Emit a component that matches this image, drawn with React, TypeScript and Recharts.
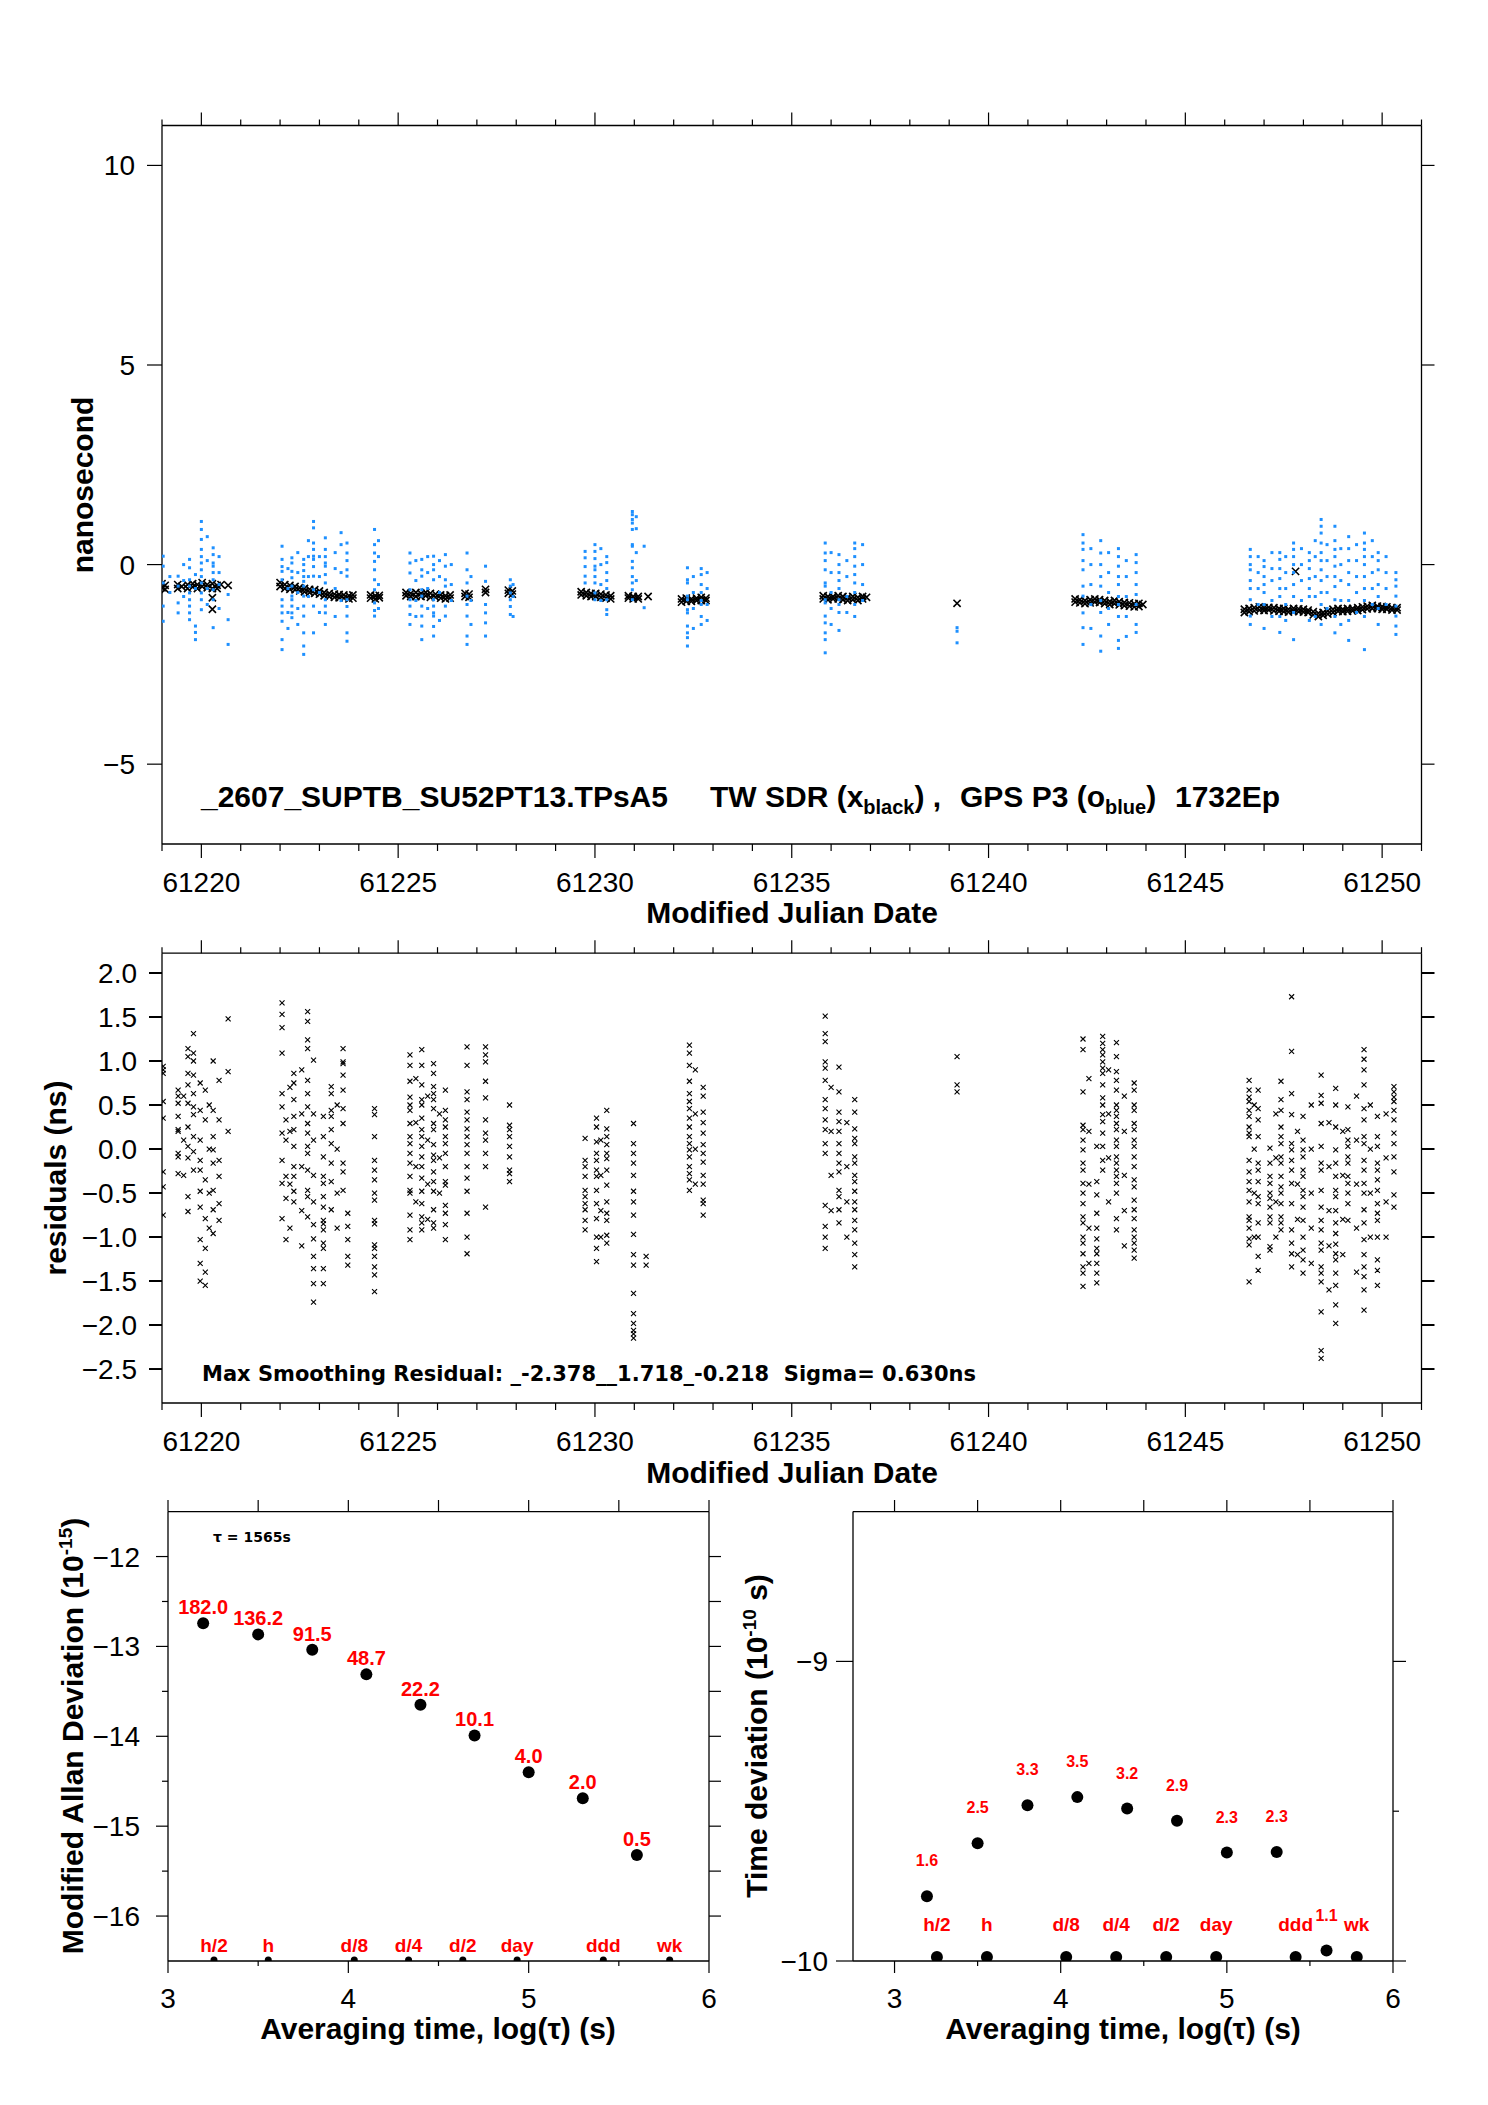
import React from "react";
import { Scatter, ScatterChart, XAxis, YAxis } from "recharts";

const SANS = "'Liberation Sans', Arial, Helvetica, sans-serif";
const DEJAVU = "'DejaVu Sans', sans-serif";
const BLUE = "#1e90ff";
const RED = "#ff0000";

// ---- axis ticks ----
const mjdTicks = [
  61219, 61220, 61221, 61222, 61223, 61224, 61225, 61226, 61227, 61228, 61229,
  61230, 61231, 61232, 61233, 61234, 61235, 61236, 61237, 61238, 61239, 61240,
  61241, 61242, 61243, 61244, 61245, 61246, 61247, 61248, 61249, 61250, 61251,
];
const mjdMajor = [61220, 61225, 61230, 61235, 61240, 61245, 61250];
const nsTicks = [-5, 0, 5, 10];
const resTicks = [-2.5, -2, -1.5, -1, -0.5, 0, 0.5, 1, 1.5, 2];
const logTauTicks = [3, 3.5, 4, 4.5, 5, 5.5, 6];
const logTauMajor = [3, 4, 5, 6];
const mdevTicks = [-16, -15.5, -15, -14.5, -14, -13.5, -13, -12.5, -12];
const mdevMajor = [-16, -15, -14, -13, -12];
const tdevTicksL = [-10, -9];
const tdevTicksR = [-10, -9.5, -9];
const tdevMajor = [-10, -9];

// ---- top panel: TW SDR (black x), columns of [MJD, values in ns] ----
type Col = [number, number[]];
const twSdr: Col[] = [
  [61219.0, [-0.48, -0.58]], [61219.08, [-0.52, -0.62]], [61219.4, [-0.5, -0.6]], [61219.5, [-0.55]],
  [61219.65, [-0.5, -0.6]], [61219.78, [-0.48, -0.56]], [61219.9, [-0.5, -0.6]], [61220.02, [-0.45, -0.55]],
  [61220.15, [-0.5, -0.58]], [61220.28, [-0.48, -0.6, -0.83, -1.12]], [61220.4, [-0.52, -0.6]], [61220.5, [-0.5]],
  [61220.68, [-0.52]],
  [61222.0, [-0.45, -0.55]], [61222.12, [-0.5, -0.6]], [61222.25, [-0.52, -0.62]], [61222.38, [-0.55, -0.63]],
  [61222.5, [-0.58, -0.66]], [61222.62, [-0.6, -0.68]], [61222.75, [-0.62, -0.7]], [61222.88, [-0.63, -0.72]],
  [61223.0, [-0.66, -0.74]], [61223.12, [-0.7, -0.78]], [61223.25, [-0.72, -0.8]], [61223.38, [-0.74, -0.82]],
  [61223.5, [-0.75, -0.83]], [61223.62, [-0.76, -0.84]], [61223.75, [-0.78, -0.86]], [61223.85, [-0.76, -0.84]],
  [61224.3, [-0.76, -0.84]], [61224.42, [-0.78, -0.86]], [61224.52, [-0.77, -0.83]],
  [61225.2, [-0.7, -0.78]], [61225.32, [-0.72, -0.8]], [61225.45, [-0.7, -0.8]], [61225.58, [-0.72, -0.8]],
  [61225.7, [-0.7, -0.78]], [61225.82, [-0.72, -0.82]], [61225.95, [-0.74, -0.82]], [61226.08, [-0.76, -0.84]],
  [61226.2, [-0.78, -0.86]], [61226.32, [-0.76, -0.84]], [61226.7, [-0.72, -0.8]], [61226.8, [-0.74, -0.82]],
  [61227.22, [-0.62, -0.7]], [61227.8, [-0.64, -0.72]], [61227.9, [-0.66, -0.74]],
  [61229.65, [-0.68, -0.76]], [61229.78, [-0.7, -0.78]], [61229.9, [-0.72, -0.8]], [61230.02, [-0.72, -0.8]],
  [61230.15, [-0.74, -0.82]], [61230.28, [-0.76, -0.84]], [61230.4, [-0.78, -0.86]],
  [61230.85, [-0.78, -0.84]], [61230.97, [-0.8, -0.86]], [61231.1, [-0.8, -0.86]], [61231.35, [-0.8]],
  [61232.2, [-0.86, -0.94]], [61232.32, [-0.84, -0.92]], [61232.45, [-0.86, -0.92]], [61232.58, [-0.84, -0.9]],
  [61232.7, [-0.82, -0.9]], [61232.82, [-0.84, -0.9]],
  [61235.8, [-0.78, -0.86]], [61235.92, [-0.8, -0.88]], [61236.05, [-0.8, -0.86]], [61236.18, [-0.78, -0.86]],
  [61236.3, [-0.8, -0.88]], [61236.42, [-0.82, -0.9]], [61236.55, [-0.8, -0.88]], [61236.68, [-0.82, -0.9]],
  [61236.8, [-0.8, -0.86]], [61236.9, [-0.82]],
  [61239.2, [-0.97]],
  [61242.2, [-0.86, -0.94]], [61242.32, [-0.88, -0.96]], [61242.45, [-0.9, -0.98]], [61242.58, [-0.88, -0.96]],
  [61242.7, [-0.86, -0.94]], [61242.82, [-0.88, -0.95]], [61242.95, [-0.9, -0.98]], [61243.08, [-0.92, -1.0]],
  [61243.2, [-0.9, -0.98]], [61243.32, [-0.93, -1.01]], [61243.45, [-0.95, -1.03]], [61243.58, [-0.96, -1.04]],
  [61243.7, [-0.98, -1.06]], [61243.82, [-0.97, -1.05]], [61243.92, [-1.0]],
  [61246.5, [-1.12, -1.2]], [61246.62, [-1.1, -1.18]], [61246.75, [-1.08, -1.16]], [61246.88, [-1.06, -1.14]],
  [61247.0, [-1.08, -1.15]], [61247.12, [-1.07, -1.14]], [61247.25, [-1.08, -1.16]], [61247.38, [-1.1, -1.17]],
  [61247.5, [-1.1, -1.18]], [61247.62, [-1.12, -1.19]], [61247.75, [-1.1, -1.17]], [61247.8, [-0.17]],
  [61247.88, [-1.11, -1.18]], [61248.0, [-1.12, -1.19]], [61248.12, [-1.14, -1.2]], [61248.25, [-1.18, -1.26]],
  [61248.38, [-1.22, -1.3]], [61248.5, [-1.2, -1.27]], [61248.62, [-1.16, -1.24]], [61248.75, [-1.12, -1.2]],
  [61248.88, [-1.1, -1.17]], [61249.0, [-1.12, -1.18]], [61249.12, [-1.1, -1.17]], [61249.25, [-1.1, -1.16]],
  [61249.38, [-1.08, -1.15]], [61249.5, [-1.06, -1.13]], [61249.62, [-1.04, -1.11]], [61249.75, [-1.02, -1.1]],
  [61249.88, [-1.04, -1.1]], [61250.0, [-1.05, -1.12]], [61250.12, [-1.06, -1.12]], [61250.25, [-1.08, -1.14]],
  [61250.38, [-1.08, -1.14]],
];

// ---- top panel: GPS P3 (blue), columns of [MJD, values in ns] ----
const gpsP3: Col[] = [
  [61219.03, [0.21, -0.04, -0.46, -1.04, -1.42]],
  [61219.2, [-0.3, -0.7]],
  [61219.41, [-0.29, -0.54, -0.96, -1.21]],
  [61219.55, [0.0, -0.4, -0.8]],
  [61219.7, [0.13, -0.08, -0.38, -0.54, -0.71, -0.88, -1.04, -1.21, -1.38]],
  [61219.85, [-0.25, -0.6, -1.54, -1.7, -1.88]],
  [61220.0, [1.08, 0.88, 0.63, 0.38, 0.2, 0.04, -0.13, -0.3, -0.46, -0.71, -0.88, -1.13]],
  [61220.15, [0.7, 0.1, -0.6, -1.0]],
  [61220.3, [0.42, 0.25, 0.04, -0.04, -0.2, -0.38, -0.63, -0.88, -1.58]],
  [61220.45, [0.2, -0.2, -0.5, -1.1]],
  [61220.68, [-0.75, -1.38, -2.0]],
  [61222.05, [0.46, 0.13, -0.05, -0.17, -0.38, -0.88, -1.04, -1.21, -1.42, -1.88, -2.13]],
  [61222.2, [-0.1, -0.6, -1.2, -1.6]],
  [61222.3, [0.17, 0.04, -0.17, -0.33, -0.54, -0.79, -0.88, -1.04, -1.21, -1.33]],
  [61222.45, [0.3, -0.2, -0.7, -1.1, -1.5]],
  [61222.6, [0.13, 0.0, -0.15, -0.3, -0.42, -0.54, -0.79, -1.04, -1.29, -1.71, -2.04, -2.25]],
  [61222.72, [0.6, 0.2, -0.3, -0.8]],
  [61222.85, [1.08, 0.92, 0.54, 0.38, 0.21, 0.13, -0.05, -0.29, -0.63, -1.04, -1.71]],
  [61223.0, [0.2, -0.3, -0.7, -1.2]],
  [61223.15, [0.67, 0.38, 0.2, 0.04, -0.04, -0.25, -0.46, -0.88, -1.04, -1.21, -1.5]],
  [61223.4, [0.3, -0.1, -0.6, -1.3]],
  [61223.55, [0.8, 0.5, -0.2, -0.9]],
  [61223.7, [0.54, 0.29, 0.1, -0.13, -0.29, -0.88, -1.05, -1.29, -1.71, -1.92]],
  [61224.4, [0.88, 0.5, 0.29, 0.08, -0.13, -0.38, -0.63, -0.96, -1.15, -1.29]],
  [61224.5, [0.6, 0.2, -0.5, -1.1]],
  [61225.3, [0.29, 0.04, -0.21, -0.63, -0.88, -1.04, -1.25, -1.5]],
  [61225.45, [0.1, -0.4, -0.9, -1.3]],
  [61225.6, [0.13, -0.13, -0.29, -0.63, -0.79, -1.04, -1.29, -1.54, -1.88]],
  [61225.75, [0.2, -0.2, -0.6, -1.1]],
  [61225.9, [0.21, 0.0, -0.13, -0.38, -0.88, -1.04, -1.21, -1.29, -1.55, -1.79]],
  [61226.05, [0.1, -0.3, -0.7, -1.4]],
  [61226.2, [0.25, -0.04, -0.38, -0.54, -1.04, -1.29]],
  [61226.35, [0.0, -0.5, -0.9]],
  [61226.75, [0.29, -0.13, -0.46, -0.79, -1.0, -1.29, -1.79, -2.0]],
  [61226.85, [-0.3, -0.9, -1.5]],
  [61227.22, [-0.04, -0.42, -1.0, -1.21, -1.46, -1.79]],
  [61227.85, [-0.38, -0.54, -0.71, -0.88, -1.05, -1.25]],
  [61227.92, [-0.5, -0.8, -1.3]],
  [61229.75, [0.33, 0.17, -0.05, -0.29, -0.46]],
  [61230.0, [0.5, 0.33, 0.15, -0.04, -0.13, -0.3, -0.46, -0.71, -0.88]],
  [61230.15, [0.4, 0.0, -0.5, -0.9]],
  [61230.3, [0.2, 0.05, -0.2, -0.4, -0.6, -0.88, -1.13, -1.25]],
  [61230.95, [1.33, 1.25, 1.13, 1.04, 0.88, 0.5, 0.46, 0.08, -0.08, -0.3, -0.46, -0.63, -0.88]],
  [61231.05, [1.2, 0.9, 0.3, -0.4]],
  [61231.25, [0.46, -1.08]],
  [61232.35, [-0.08, -0.38, -0.46, -0.79, -0.88, -1.13, -1.21, -1.54, -1.71, -1.83, -2.04]],
  [61232.5, [-0.3, -0.7, -1.1, -1.6]],
  [61232.7, [-0.1, -0.25, -0.5, -0.7, -0.9, -1.0, -1.3, -1.5]],
  [61232.85, [-0.2, -0.6, -1.0, -1.4]],
  [61235.85, [0.54, 0.29, 0.1, -0.13, -0.46, -0.54, -0.88, -0.96, -1.29, -1.46, -1.71, -1.88, -2.21]],
  [61236.0, [0.3, -0.2, -0.7, -1.1, -1.5]],
  [61236.2, [0.25, 0.0, -0.2, -0.4, -0.6, -0.88, -1.0, -1.2, -1.65]],
  [61236.4, [0.1, -0.3, -0.8, -1.2]],
  [61236.6, [0.54, 0.4, 0.2, -0.04, -0.25, -0.46, -0.7, -1.0, -1.3]],
  [61236.8, [0.5, 0.0, -0.5, -0.9]],
  [61239.2, [-1.58, -1.67, -1.96]],
  [61242.4, [0.75, 0.54, 0.38, 0.1, -0.13, -0.54, -0.79, -1.21, -1.58, -2.0]],
  [61242.6, [0.4, 0.0, -0.5, -1.0, -1.6]],
  [61242.85, [0.6, 0.29, 0.0, -0.3, -0.54, -0.9, -1.2, -1.79, -2.17]],
  [61243.05, [0.3, -0.2, -0.7, -1.1, -1.5]],
  [61243.3, [0.4, 0.2, -0.04, -0.3, -0.5, -0.8, -1.0, -1.3, -1.9, -2.1]],
  [61243.5, [0.1, -0.3, -0.8, -1.3, -1.8]],
  [61243.75, [0.25, 0.05, -0.2, -0.5, -0.75, -1.0, -1.5, -1.7]],
  [61246.65, [0.38, 0.2, 0.0, -0.13, -0.4, -0.6, -0.88, -1.29, -1.5]],
  [61246.85, [0.2, -0.2, -0.6, -1.0]],
  [61247.0, [0.1, -0.05, -0.3, -0.5, -0.7, -1.0, -1.6]],
  [61247.2, [0.3, -0.1, -0.4, -0.9, -1.3]],
  [61247.4, [0.3, 0.13, -0.1, -0.35, -0.6, -0.8, -1.3, -1.7]],
  [61247.55, [0.2, -0.2, -0.6, -1.0, -1.4]],
  [61247.75, [0.54, 0.38, 0.2, 0.0, -0.2, -0.5, -0.8, -1.2, -1.88]],
  [61247.95, [0.4, 0.0, -0.4, -0.9]],
  [61248.15, [0.3, 0.1, -0.1, -0.35, -0.6, -0.8, -1.4]],
  [61248.3, [0.6, 0.2, -0.3, -0.8, -1.3]],
  [61248.45, [1.13, 0.96, 0.79, 0.54, 0.3, 0.1, -0.13, -0.4, -0.7, -1.0, -1.5]],
  [61248.6, [0.5, 0.1, -0.3, -0.7, -1.1]],
  [61248.8, [0.96, 0.6, 0.38, 0.2, -0.04, -0.3, -0.55, -0.88, -1.3, -1.71]],
  [61248.95, [0.4, 0.0, -0.4, -0.9, -1.5]],
  [61249.15, [0.7, 0.4, 0.1, -0.2, -0.5, -0.9, -1.4, -1.9]],
  [61249.35, [0.5, 0.1, -0.3, -0.7, -1.2]],
  [61249.55, [0.79, 0.54, 0.38, 0.2, 0.0, -0.3, -0.6, -0.9, -1.3, -2.13]],
  [61249.75, [0.6, 0.2, -0.2, -0.6, -1.0]],
  [61249.9, [0.3, 0.1, -0.13, -0.5, -0.8, -1.1, -1.5]],
  [61250.1, [0.2, -0.2, -0.6, -1.0]],
  [61250.35, [-0.2, -0.38, -0.54, -0.79, -1.04, -1.29, -1.54, -1.75]],
];

// ---- middle panel: residuals (ns), columns of [MJD, values] ----
const residuals: Col[] = [
  [61219.03, [0.94, 0.86, 0.9, 0.54, 0.35, -0.26, -0.43, -0.75]],
  [61219.41, [0.67, 0.6, 0.52, 0.37, 0.22, 0.2, -0.05, -0.09, -0.28]],
  [61219.55, [0.6, 0.1, -0.3]],
  [61219.66, [1.14, 1.05, 0.86, 0.73, 0.52, 0.25, 0.03, -0.1, -0.54, -0.71]],
  [61219.8, [1.31, 1.09, 1.0, 0.84, 0.63, 0.48, 0.39, 0.14, -0.03, -0.24]],
  [61219.97, [0.75, 0.44, 0.1, -0.13, -0.24, -0.48, -0.66, -1.03, -1.3, -1.5]],
  [61220.1, [0.67, 0.33, -0.35, -0.79, -1.13, -1.4, -1.55]],
  [61220.2, [0.5, 0.0, -0.5, -0.9]],
  [61220.3, [1.0, 0.44, 0.14, -0.01, -0.16, -0.47, -0.69, -0.96]],
  [61220.45, [0.78, 0.33, -0.13, -0.31, -0.62, -0.81]],
  [61220.68, [1.48, 0.88, 0.2]],
  [61222.05, [1.66, 1.53, 1.38, 1.09, 0.63, 0.48, 0.18, -0.13, -0.39, -0.79]],
  [61222.15, [0.33, 0.1, -0.31, -0.56, -1.03]],
  [61222.25, [0.7, 0.2, -0.4, -0.9]],
  [61222.35, [0.86, 0.75, 0.56, 0.37, 0.22, 0.03, -0.2, -0.31, -0.48, -0.6]],
  [61222.55, [0.9, 0.4, -0.2, -0.7, -1.1]],
  [61222.7, [1.56, 1.45, 1.24, 1.14, 0.78, 0.63, 0.48, 0.29, 0.18, 0.03, -0.05, -0.24, -0.47, -0.54, -0.77]],
  [61222.85, [1.01, 0.4, 0.1, -0.3, -0.6, -0.86, -1.02, -1.22, -1.36, -1.53, -1.74]],
  [61223.1, [0.37, 0.14, -0.09, -0.31, -0.39, -0.54, -0.66, -0.81, -0.85, -0.92, -1.07, -1.13, -1.36, -1.53]],
  [61223.3, [0.71, 0.63, 0.44, 0.37, 0.22, 0.06, -0.16, -0.37, -0.69]],
  [61223.45, [0.5, 0.0, -0.5, -0.9]],
  [61223.6, [1.14, 0.99, 0.97, 0.84, 0.67, 0.46, 0.29, -0.16, -0.26, -0.47]],
  [61223.72, [-0.73, -0.88, -1.03, -1.22, -1.32]],
  [61224.4, [0.46, 0.39, 0.14, -0.13, -0.24, -0.35, -0.5, -0.58, -0.81, -0.85, -1.09, -1.13, -1.22, -1.34, -1.43, -1.62]],
  [61225.3, [1.07, 0.95, 0.77, 0.59, 0.5, 0.44, 0.29, 0.14, 0.06, -0.05, -0.16, -0.31, -0.47, -0.5, -0.75, -0.92, -1.03]],
  [61225.45, [0.8, 0.3, -0.2, -0.6]],
  [61225.6, [1.13, 0.95, 0.73, 0.56, 0.5, 0.35, 0.22, 0.14, 0.03, -0.09, -0.2, -0.33, -0.48, -0.62, -0.77, -0.84, -0.92]],
  [61225.75, [0.6, 0.1, -0.4, -0.8]],
  [61225.9, [0.97, 0.86, 0.71, 0.63, 0.56, 0.46, 0.29, 0.22, 0.05, -0.07, -0.13, -0.26, -0.37, -0.48, -0.69, -0.84, -0.9]],
  [61226.05, [0.4, -0.1, -0.5]],
  [61226.2, [0.67, 0.44, 0.33, 0.25, 0.14, 0.06, -0.05, -0.2, -0.37, -0.41, -0.64, -0.73, -0.86, -1.03]],
  [61226.75, [1.16, 0.95, 0.65, 0.56, 0.42, 0.33, 0.23, 0.14, 0.05, -0.05, -0.2, -0.33, -0.48, -0.73, -1.0, -1.19]],
  [61227.22, [1.16, 1.07, 0.99, 0.77, 0.58, 0.33, 0.18, 0.1, -0.05, -0.2, -0.66]],
  [61227.83, [0.5, 0.27, 0.22, 0.14, 0.03, -0.09, -0.24, -0.28, -0.37]],
  [61229.75, [0.12, -0.13, -0.2, -0.31, -0.47, -0.54, -0.62, -0.69, -0.81, -0.92]],
  [61230.04, [0.35, 0.25, 0.08, -0.05, -0.13, -0.24, -0.31, -0.47, -0.62, -0.79, -1.0, -1.13, -1.28]],
  [61230.15, [0.1, -0.3, -0.7, -1.0]],
  [61230.3, [0.44, 0.23, 0.14, 0.05, -0.05, -0.11, -0.24, -0.41, -0.6, -0.73, -0.81, -0.98, -1.07]],
  [61230.98, [0.29, 0.06, -0.05, -0.16, -0.3, -0.48, -0.6, -0.75, -0.97, -1.2, -1.32, -1.64, -1.87, -1.98, -2.06, -2.1, -2.15]],
  [61231.3, [-1.22, -1.32]],
  [61232.4, [1.18, 1.09, 0.95, 0.77, 0.63, 0.54, 0.46, 0.35, 0.25, 0.14, 0.06, -0.01, -0.09, -0.2, -0.28, -0.35, -0.47]],
  [61232.55, [0.9, 0.4, 0.0, -0.4]],
  [61232.75, [0.7, 0.6, 0.42, 0.3, 0.18, 0.05, -0.05, -0.15, -0.3, -0.4, -0.58, -0.62, -0.75]],
  [61235.85, [1.51, 1.31, 1.22, 0.99, 0.92, 0.78, 0.56, 0.46, 0.33, 0.22, 0.06, -0.05, -0.64, -0.88, -1.0, -1.13]],
  [61236.0, [0.7, 0.2, -0.3, -0.7]],
  [61236.2, [0.93, 0.65, 0.42, 0.31, 0.2, 0.06, -0.05, -0.16, -0.26, -0.47, -0.54, -0.69, -0.84]],
  [61236.4, [0.3, -0.2, -0.6, -1.0]],
  [61236.6, [0.56, 0.42, 0.23, 0.12, 0.06, -0.09, -0.16, -0.3, -0.37, -0.48, -0.6, -0.69, -0.81, -0.92, -1.07, -1.2, -1.34]],
  [61239.2, [1.05, 0.73, 0.65]],
  [61242.4, [1.25, 1.13, 0.65, 0.27, 0.22, 0.1, -0.01, -0.16, -0.24, -0.39, -0.5, -0.62, -0.77, -0.84, -1.0, -1.07, -1.19, -1.34, -1.41, -1.56]],
  [61242.55, [0.8, 0.2, -0.4, -0.9, -1.3]],
  [61242.75, [0.03, -0.37, -0.52, -0.73, -0.9, -1.02, -1.13, -1.19, -1.3, -1.41, -1.52]],
  [61242.9, [1.28, 1.2, 1.13, 1.07, 0.99, 0.92, 0.86, 0.73, 0.58, 0.5, 0.39, 0.31, 0.18, 0.03, -0.13, -0.24]],
  [61243.05, [0.9, 0.4, -0.1, -0.6]],
  [61243.25, [1.21, 1.05, 0.88, 0.78, 0.67, 0.5, 0.44, 0.37, 0.29, 0.22, 0.1, 0.03, -0.09, -0.16, -0.24, -0.31, -0.39, -0.5, -0.79, -0.92]],
  [61243.45, [0.6, 0.2, -0.3, -0.7, -1.1]],
  [61243.7, [0.75, 0.67, 0.5, 0.44, 0.29, 0.22, 0.1, 0.03, -0.09, -0.2, -0.35, -0.43, -0.58, -0.69, -0.79, -0.92, -1.0, -1.07, -1.15, -1.24]],
  [61246.62, [0.78, 0.67, 0.59, 0.54, 0.44, 0.37, 0.25, 0.18, 0.14, -0.13, -0.26, -0.37, -0.47, -0.6, -0.77, -0.81, -0.9, -1.02, -1.09, -1.51]],
  [61246.75, [0.5, 0.0, -0.5, -1.0]],
  [61246.85, [0.67, 0.46, 0.33, 0.14, -0.16, -0.24, -0.37, -0.54, -0.62, -0.84, -1.0, -1.22, -1.38]],
  [61247.15, [0.01, -0.16, -0.31, -0.39, -0.5, -0.56, -0.66, -0.77, -0.84, -1.11, -1.15]],
  [61247.3, [0.4, -0.1, -0.6, -1.0]],
  [61247.43, [0.77, 0.56, 0.44, 0.25, 0.14, 0.06, -0.09, -0.16, -0.31, -0.43, -0.5, -0.62, -0.77, -0.84, -0.92]],
  [61247.7, [1.73, 1.11, 0.63, 0.39, 0.06, -0.01, -0.13, -0.24, -0.39, -0.62, -0.92, -1.07, -1.19, -1.34]],
  [61247.85, [0.2, -0.4, -0.8, -1.2]],
  [61247.99, [0.37, 0.1, -0.01, -0.09, -0.24, -0.31, -0.47, -0.54, -0.66, -0.81, -1.0, -1.15, -1.26, -1.41]],
  [61248.2, [0.5, 0.0, -0.5, -0.9, -1.3]],
  [61248.45, [0.84, 0.61, 0.52, 0.29, 0.03, -0.16, -0.24, -0.47, -0.66, -0.81, -0.92, -1.07, -1.15, -1.34, -1.41, -1.51, -1.85, -2.29, -2.38]],
  [61248.65, [0.3, -0.2, -0.7, -1.1, -1.6]],
  [61248.82, [0.69, 0.5, 0.25, -0.01, -0.16, -0.31, -0.47, -0.54, -0.7, -0.84, -0.96, -1.08, -1.19, -1.26, -1.41, -1.55, -1.77, -1.98]],
  [61249.0, [0.2, -0.3, -0.8, -1.2]],
  [61249.13, [0.48, 0.22, 0.1, 0.03, -0.09, -0.16, -0.31, -0.39, -0.5, -0.62, -0.81]],
  [61249.35, [0.6, 0.1, -0.4, -0.9, -1.4]],
  [61249.54, [1.13, 1.02, 0.9, 0.73, 0.46, 0.33, 0.14, 0.06, -0.13, -0.24, -0.39, -0.5, -0.69, -0.84, -1.03, -1.2, -1.34, -1.45, -1.6, -1.83]],
  [61249.7, [0.5, 0.0, -0.5, -1.0]],
  [61249.88, [0.37, 0.14, 0.03, -0.16, -0.24, -0.35, -0.47, -0.62, -0.73, -0.81, -1.0, -1.26, -1.38, -1.55]],
  [61250.1, [0.4, -0.1, -0.6, -1.0]],
  [61250.3, [0.71, 0.65, 0.59, 0.54, 0.44, 0.33, 0.18, 0.06, -0.09, -0.26, -0.52, -0.66]],
];

// ---- bottom panels: log(tau), log(deviation) and printed values ----
const mdevLogTau = [3.195, 3.5, 3.8, 4.1, 4.4, 4.7, 5.0, 5.3, 5.6];
const mdevLog = [-12.741, -12.866, -13.037, -13.311, -13.65, -13.99, -14.4, -14.69, -15.32];
const mdevLabels = ["182.0", "136.2", "91.5", "48.7", "22.2", "10.1", "4.0", "2.0", "0.5"];
const tdevLogTau = [3.195, 3.5, 3.8, 4.1, 4.4, 4.7, 5.0, 5.3, 5.6];
const tdevLog = [-9.784, -9.607, -9.48, -9.453, -9.491, -9.532, -9.638, -9.636, -9.965];
const tdevLabels = ["1.6", "2.5", "3.3", "3.5", "3.2", "2.9", "2.3", "2.3", "1.1"];
const markLogTau = [3.255, 3.556, 4.033, 4.334, 4.635, 4.936, 5.414, 5.782];
const markLabels = ["h/2", "h", "d/8", "d/4", "d/2", "day", "ddd", "wk"];
const mdevMarkLevel = -16.5;
const tdevMarkLevel = -9.987;

const flat = (cols: Col[]) => cols.flatMap(([d, vs]) => vs.map((v) => ({ x: d, y: v })));
const twData = flat(twSdr);
const gpsData = flat(gpsP3);
const resData = flat(residuals);
const mdevData = mdevLogTau.map((x, i) => ({ x, y: mdevLog[i], label: mdevLabels[i] }));
const tdevData = tdevLogTau.map((x, i) => ({ x, y: tdevLog[i], label: tdevLabels[i] }));
const mdevMarks = markLogTau.map((x, i) => ({ x, y: mdevMarkLevel, label: markLabels[i] }));
const tdevMarks = markLogTau.map((x, i) => ({ x, y: tdevMarkLevel, label: markLabels[i] }));

const minus = (s: string) => s.replace("-", "\u2212");

// custom tick: draws the tick line itself (outward) and the label for majors
function AxisTick(props: any) {
  const { x, y, payload, side, majors, majorLen, minorLen, fmt, sw = 1.2, gap = 26, below = 48 } = props;
  const v = Number(payload?.value);
  const major = majors.some((m: number) => Math.abs(m - v) < 1e-6);
  const len = major ? majorLen : minorLen;
  const label = major && fmt ? fmt(v) : null;
  const fs = 28;
  if (side === "bottom" || side === "top") {
    const y2 = side === "bottom" ? y + len : y - len;
    return (
      <g>
        <line x1={x} y1={y} x2={x} y2={y2} stroke="#000" strokeWidth={sw} />
        {label != null && (
          <text x={x} y={y + below} textAnchor="middle" fontSize={fs} fontFamily={SANS} fill="#000">
            {label}
          </text>
        )}
      </g>
    );
  }
  const x2 = side === "left" ? x - len : x + len;
  return (
    <g>
      <line x1={x} y1={y} x2={x2} y2={y} stroke="#000" strokeWidth={sw} />
      {label != null && (
        <text x={x - gap} y={y + 10} textAnchor="end" fontSize={fs} fontFamily={SANS} fill="#000">
          {label}
        </text>
      )}
    </g>
  );
}

type FrameCfg = {
  xDomain: [number, number];
  yDomain: [number, number];
  xTicks: number[];
  xMajors: number[];
  yTicksL: number[];
  yTicksR: number[];
  yMajors: number[];
  xFmt: (v: number) => string;
  yFmt: (v: number) => string;
  xLenB: [number, number];
  xLenT: [number, number];
  yLenL: [number, number];
  yLenR: [number, number];
  ySw?: number;
  below?: number;
  gap?: number;
};

// axes are 1px thick boxes (a zero-size axis is not drawn), margins take the extra pixel off
function frame(c: FrameCfg) {
  const line = { stroke: "#000", strokeWidth: 1.3 };
  return [
    <XAxis key="xb" xAxisId="b" orientation="bottom" type="number" dataKey="x" domain={c.xDomain}
      allowDataOverflow ticks={c.xTicks} interval={0} height={1} tickSize={0} tickMargin={0}
      tickLine={false} axisLine={line}
      tick={<AxisTick side="bottom" majors={c.xMajors} majorLen={c.xLenB[0]} minorLen={c.xLenB[1]} fmt={c.xFmt} below={c.below} />} />,
    <XAxis key="xt" xAxisId="t" orientation="top" type="number" dataKey="x" domain={c.xDomain}
      allowDataOverflow ticks={c.xTicks} interval={0} height={1} tickSize={0} tickMargin={0}
      tickLine={false} axisLine={line}
      tick={<AxisTick side="top" majors={c.xMajors} majorLen={c.xLenT[0]} minorLen={c.xLenT[1]} />} />,
    <YAxis key="yl" yAxisId="l" orientation="left" type="number" dataKey="y" domain={c.yDomain}
      allowDataOverflow ticks={c.yTicksL} interval={0} width={1} tickSize={0} tickMargin={0}
      tickLine={false} axisLine={line}
      tick={<AxisTick side="left" majors={c.yMajors} majorLen={c.yLenL[0]} minorLen={c.yLenL[1]} fmt={c.yFmt} sw={c.ySw} gap={c.gap} />} />,
    <YAxis key="yr" yAxisId="r" orientation="right" type="number" dataKey="y" domain={c.yDomain}
      allowDataOverflow ticks={c.yTicksR} interval={0} width={1} tickSize={0} tickMargin={0}
      tickLine={false} axisLine={line}
      tick={<AxisTick side="right" majors={c.yMajors} majorLen={c.yLenR[0]} minorLen={c.yLenR[1]} sw={c.ySw} />} />,
  ];
}

const blueSquare = (p: any) =>
  p.cx == null ? <g /> : <rect x={p.cx - 1.5} y={p.cy - 1.5} width={3} height={3} fill={BLUE} />;

const cross = (h: number, sw: number) => (p: any) =>
  p.cx == null ? (
    <g />
  ) : (
    <path d={`M${p.cx - h},${p.cy - h}L${p.cx + h},${p.cy + h}M${p.cx - h},${p.cy + h}L${p.cx + h},${p.cy - h}`}
      stroke="#000" strokeWidth={sw} fill="none" />
  );

const labelledDot = (r: number, fs: number, lift: number) => (p: any) =>
  p.cx == null ? (
    <g />
  ) : (
    <g>
      <circle cx={p.cx} cy={p.cy} r={r} fill="#000" />
      <text x={p.cx} y={p.cy - lift} textAnchor="middle" fontSize={fs} fontWeight="bold" fontFamily={SANS} fill={RED}>
        {p.payload?.label}
      </text>
    </g>
  );

const markLabel = (fs: number, lift: number, r: number, dy: number) => (p: any) =>
  p.cx == null ? (
    <g />
  ) : (
    <g>
      <circle cx={p.cx} cy={p.cy + dy} r={r} fill="#000" />
      <text x={p.cx} y={p.cy - lift} textAnchor="middle" fontSize={fs} fontWeight="bold" fontFamily={SANS} fill={RED}>
        {p.payload?.label}
      </text>
    </g>
  );

const noAnim = { isAnimationActive: false };

function Overlay() {
  const bold = { fontFamily: SANS, fontWeight: "bold" as const, fill: "#000" };
  return (
    <svg width={1488} height={2105} style={{ position: "absolute", left: 0, top: 0, pointerEvents: "none" }}>
      {/* top panel */}
      <text transform="translate(93,485) rotate(-90)" textAnchor="middle" fontSize={30} {...bold}>nanosecond</text>
      <text x={792} y={923} textAnchor="middle" fontSize={30} {...bold}>Modified Julian Date</text>
      <text x={201} y={807} fontSize={30} {...bold}>_2607_SUPTB_SU52PT13.TPsA5</text>
      <text x={710} y={807} fontSize={30} {...bold}>
        TW SDR (x<tspan fontSize={20} dy={7}>black</tspan><tspan dy={-7}>) ,</tspan>
      </text>
      <text x={960} y={807} fontSize={30} {...bold}>
        GPS P3 (o<tspan fontSize={20} dy={7}>blue</tspan><tspan dy={-7}>)</tspan>
      </text>
      <text x={1175} y={807} fontSize={30} {...bold}>1732Ep</text>

      {/* middle panel */}
      <text transform="translate(66,1178) rotate(-90)" textAnchor="middle" fontSize={30} {...bold}>residuals (ns)</text>
      <text x={792} y={1483} textAnchor="middle" fontSize={30} {...bold}>Modified Julian Date</text>
      <text x={202} y={1381} fontSize={21} fontFamily={DEJAVU} fontWeight="bold" fill="#000" xmlSpace="preserve">
        Max Smoothing Residual: _-2.378__1.718_-0.218  Sigma= 0.630ns
      </text>

      {/* bottom panels */}
      <text x={213} y={1542} fontSize={14} fontFamily={DEJAVU} fontWeight="bold" fill="#000">τ = 1565s</text>
      <text transform="translate(83,1736) rotate(-90)" textAnchor="middle" fontSize={30} {...bold}>
        Modified Allan Deviation (10<tspan fontSize={19} dy={-11}>-15</tspan><tspan dy={11}>)</tspan>
      </text>
      <text transform="translate(767,1736) rotate(-90)" textAnchor="middle" fontSize={30} {...bold}>
        Time deviation (10<tspan fontSize={19} dy={-11}>-10</tspan><tspan dy={11}> s)</tspan>
      </text>
      <text x={438} y={2039} textAnchor="middle" fontSize={30} {...bold}>Averaging time, log(τ) (s)</text>
      <text x={1123} y={2039} textAnchor="middle" fontSize={30} {...bold}>Averaging time, log(τ) (s)</text>
    </svg>
  );
}

export default function App() {
  return (
    <div style={{ position: "absolute", left: 0, top: 0, width: 1488, height: 2105, background: "#fff" }}>
      <div style={{ position: "absolute", left: 0, top: 0 }}>
        <ScatterChart width={1488} height={950} margin={{ top: 124.5, right: 65.5, bottom: 105, left: 161 }}>
          {frame({
            xDomain: [61219, 61251], yDomain: [-7, 11],
            xTicks: mjdTicks, xMajors: mjdMajor, yTicksL: nsTicks, yTicksR: nsTicks, yMajors: nsTicks,
            xFmt: (v) => String(v), yFmt: (v) => minus(String(v)),
            xLenB: [14, 7], xLenT: [13, 6], yLenL: [15, 15], yLenR: [13, 13], below: 48, gap: 27,
          })}
          <Scatter data={twData} xAxisId="b" yAxisId="l" shape={cross(3.6, 1.6)} {...noAnim} />
          <Scatter data={gpsData} xAxisId="b" yAxisId="l" shape={blueSquare} {...noAnim} />
        </ScatterChart>
      </div>

      <div style={{ position: "absolute", left: 0, top: 940 }}>
        <ScatterChart width={1488} height={560} margin={{ top: 12.2, right: 65.5, bottom: 96, left: 161 }}>
          {frame({
            xDomain: [61219, 61251], yDomain: [-2.886, 2.225],
            xTicks: mjdTicks, xMajors: mjdMajor, yTicksL: resTicks, yTicksR: resTicks, yMajors: resTicks,
            xFmt: (v) => String(v), yFmt: (v) => minus(v.toFixed(1)),
            xLenB: [14, 7], xLenT: [13, 6], yLenL: [13, 13], yLenR: [13, 13], ySw: 2, below: 48, gap: 25,
          })}
          <Scatter data={resData} xAxisId="b" yAxisId="l" shape={cross(2.5, 1.1)} {...noAnim} />
        </ScatterChart>
      </div>

      <div style={{ position: "absolute", left: 0, top: 1500 }}>
        <ScatterChart width={760} height={600} margin={{ top: 10.6, right: 50, bottom: 138, left: 167 }}>
          {frame({
            xDomain: [3, 6], yDomain: [-16.5, -11.5],
            xTicks: logTauTicks, xMajors: logTauMajor, yTicksL: mdevTicks, yTicksR: mdevTicks, yMajors: mdevMajor,
            xFmt: (v) => String(v), yFmt: (v) => minus(String(v)),
            xLenB: [12, 5], xLenT: [12, 12], yLenL: [12, 6], yLenR: [12, 12], below: 47, gap: 28,
          })}
          <Scatter data={mdevMarks} xAxisId="b" yAxisId="l" shape={markLabel(19, 9, 3.5, -1)} {...noAnim} />
          <Scatter data={mdevData} xAxisId="b" yAxisId="l" shape={labelledDot(6, 20, 9)} {...noAnim} />
        </ScatterChart>
      </div>

      <div style={{ position: "absolute", left: 760, top: 1500 }}>
        <ScatterChart width={728} height={600} margin={{ top: 10.6, right: 94, bottom: 138, left: 92 }}>
          {frame({
            xDomain: [2.75, 6], yDomain: [-10, -8.5],
            xTicks: logTauTicks, xMajors: logTauMajor, yTicksL: tdevTicksL, yTicksR: tdevTicksR, yMajors: tdevMajor,
            xFmt: (v) => String(v), yFmt: (v) => minus(String(v)),
            xLenB: [12, 5], xLenT: [12, 12], yLenL: [17, 17], yLenR: [13, 6], below: 47, gap: 25,
          })}
          <Scatter data={tdevMarks} xAxisId="b" yAxisId="l" shape={markLabel(19, 26, 6, 0)} {...noAnim} />
          <Scatter data={tdevData} xAxisId="b" yAxisId="l" shape={labelledDot(6, 16, 30)} {...noAnim} />
        </ScatterChart>
      </div>

      <Overlay />
    </div>
  );
}
